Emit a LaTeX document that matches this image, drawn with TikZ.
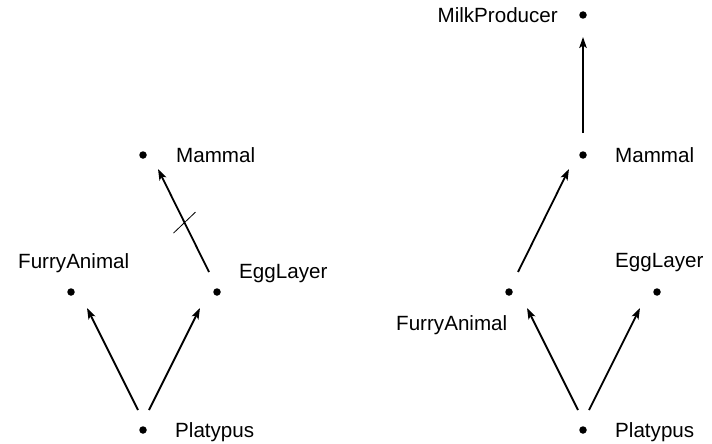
\documentclass[tikz,border=0pt]{standalone}
\usepackage{fontspec}
\setmainfont{Liberation Sans}
\usetikzlibrary{arrows.meta}
\begin{document}
\begin{tikzpicture}[x=1pt,y=-1pt,
  dot/.style={circle,fill=black,inner sep=0pt,minimum size=7.5pt},
  lbl/.style={inner sep=0pt,font=\fontsize{20.6}{24}\selectfont},
  isa/.style={line width=1.8pt,-{Stealth[length=11pt,width=7.5pt,inset=2.5pt]}},
  tickmark/.style={line width=0.8pt}]
\useasboundingbox (0,0) rectangle (712,444);

% ---- hierarchy with a cancelled link ----
\node[dot] (M1) at (143,155) {};
\node[dot] (F1) at (71,292) {};
\node[dot] (E1) at (217,292) {};
\node[dot] (P1) at (143,430) {};
\node[lbl,anchor=base west] (M1l) at (176,162) {Mammal};
\node[lbl,anchor=base west] (F1l) at (18,268) {FurryAnimal};
\node[lbl,anchor=base west] (E1l) at (239,278) {EggLayer};
\node[lbl,anchor=base west] (P1l) at (175,437) {Platypus};

\draw[isa] ([shift={(-5,-20)}]P1.center) -- ([shift={(16,16)}]F1.center);
\draw[isa] ([shift={(6,-20)}]P1.center) -- ([shift={(-17,16)}]E1.center);
\draw[isa] ([shift={(-8,-20)}]E1.center) -- ([shift={(15,14)}]M1.center)
  coordinate[pos=0.48] (cut);
\draw[tickmark] ([shift={(-11,10.5)}]cut) -- ([shift={(11,-10.5)}]cut);

% ---- revised hierarchy ----
\node[dot] (K2) at (583,15) {};
\node[dot] (M2) at (583,155) {};
\node[dot] (F2) at (509,292) {};
\node[dot] (E2) at (657,292) {};
\node[dot] (P2) at (583,430) {};
\node[lbl,anchor=base east] (K2l) at (558,23) {MilkProducer};
\node[lbl,anchor=base west] (M2l) at (615,162) {Mammal};
\node[lbl,anchor=base west] (F2l) at (396,330) {FurryAnimal};
\node[lbl,anchor=base west] (E2l) at (615,267) {EggLayer};
\node[lbl,anchor=base west] (P2l) at (615,437) {Platypus};

\draw[isa] ([shift={(0,-22)}]M2.center) -- ([shift={(0,22)}]K2.center);
\draw[isa] ([shift={(9,-20)}]F2.center) -- ([shift={(-14,14)}]M2.center);
\draw[isa] ([shift={(-5,-20)}]P2.center) -- ([shift={(18,16)}]F2.center);
\draw[isa] ([shift={(6,-20)}]P2.center) -- ([shift={(-17,16)}]E2.center);
\end{tikzpicture}
\end{document}
